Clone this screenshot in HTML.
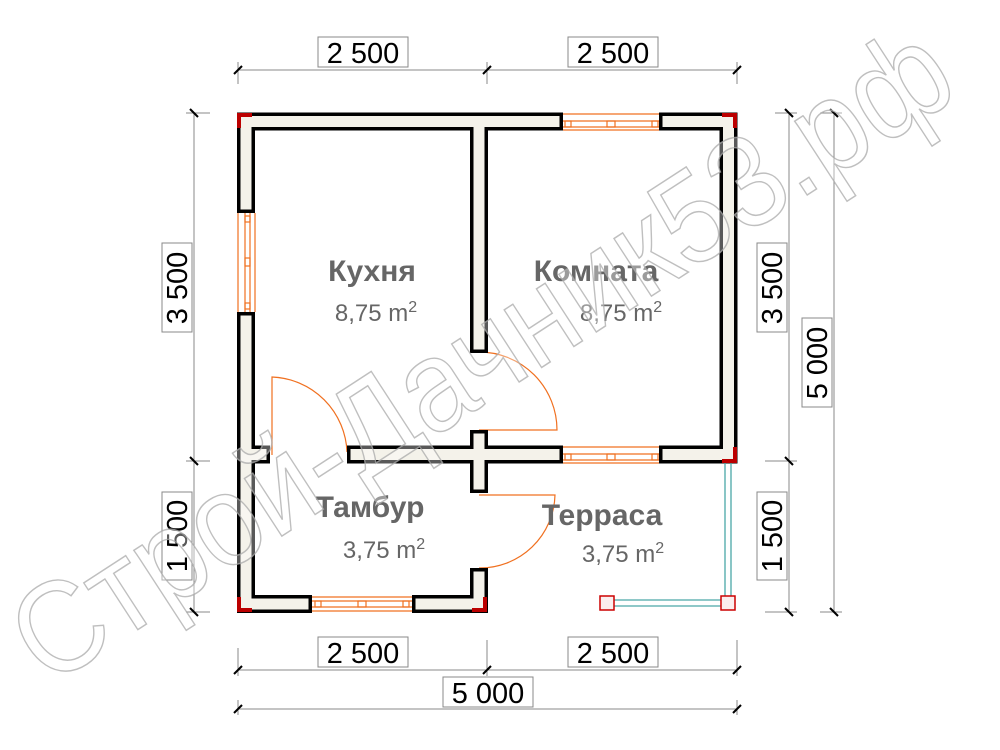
<!DOCTYPE html>
<html><head><meta charset="utf-8"><style>
html,body{margin:0;padding:0;background:#fff;}
svg{display:block;}
</style></head><body>
<svg width="1000" height="750" viewBox="0 0 1000 750" xmlns="http://www.w3.org/2000/svg" font-family="Liberation Sans, sans-serif">
<rect width="1000" height="750" fill="#fff"/>

<!-- dimension lines -->
<g stroke="#888" stroke-width="1" fill="none">
  <line x1="238" y1="70" x2="737" y2="70"/>
  <line x1="238" y1="62" x2="238" y2="84"/><line x1="487" y1="62" x2="487" y2="84"/><line x1="737" y1="62" x2="737" y2="84"/>
  <line x1="194" y1="113" x2="194" y2="612"/>
  <line x1="186" y1="113" x2="210" y2="113"/><line x1="186" y1="461" x2="210" y2="461"/><line x1="186" y1="612" x2="210" y2="612"/>
  <line x1="789" y1="113" x2="789" y2="612"/>
  <line x1="775" y1="113" x2="797" y2="113"/><line x1="765" y1="461" x2="797" y2="461"/><line x1="765" y1="612" x2="797" y2="612"/>
  <line x1="834" y1="113" x2="834" y2="612"/>
  <line x1="820" y1="113" x2="842" y2="113"/><line x1="820" y1="612" x2="842" y2="612"/>
  <line x1="238" y1="670" x2="737" y2="670"/>
  <line x1="238" y1="648" x2="238" y2="676"/><line x1="487" y1="640" x2="487" y2="676"/><line x1="737" y1="640" x2="737" y2="676"/>
  <line x1="238" y1="709" x2="737" y2="709"/>
  <line x1="238" y1="700" x2="238" y2="715"/><line x1="737" y1="700" x2="737" y2="715"/>
</g>
<g stroke="#000" stroke-width="2">
  <line x1="234" y1="74" x2="242" y2="66"/><line x1="483" y1="74" x2="491" y2="66"/><line x1="733" y1="74" x2="741" y2="66"/>
  <line x1="190" y1="109" x2="198" y2="117"/><line x1="190" y1="457" x2="198" y2="465"/><line x1="190" y1="608" x2="198" y2="616"/>
  <line x1="785" y1="109" x2="793" y2="117"/><line x1="785" y1="457" x2="793" y2="465"/><line x1="785" y1="608" x2="793" y2="616"/>
  <line x1="830" y1="109" x2="838" y2="117"/><line x1="830" y1="608" x2="838" y2="616"/>
  <line x1="234" y1="674" x2="242" y2="666"/><line x1="483" y1="674" x2="491" y2="666"/><line x1="733" y1="674" x2="741" y2="666"/>
  <line x1="234" y1="713" x2="242" y2="705"/><line x1="733" y1="713" x2="741" y2="705"/>
</g>
<g fill="#fff" stroke="#888" stroke-width="1">
  <rect x="318" y="37" width="90" height="30"/><rect x="568" y="37" width="90" height="30"/>
  <rect x="318" y="637" width="90" height="30"/><rect x="568" y="637" width="90" height="30"/>
  <rect x="443" y="677" width="90" height="30"/>
  <rect x="162" y="243" width="30" height="89"/><rect x="162" y="492" width="30" height="88"/>
  <rect x="757" y="243" width="30" height="89"/><rect x="757" y="492" width="30" height="88"/>
  <rect x="802" y="318" width="30" height="89"/>
</g>
<g font-size="29" fill="#000" text-anchor="middle">
  <text x="363" y="63">2 500</text><text x="613" y="63">2 500</text>
  <text x="363" y="663">2 500</text><text x="613" y="663">2 500</text>
  <text x="488" y="703">5 000</text>
  <text transform="translate(187,288) rotate(-90)">3 500</text>
  <text transform="translate(187,536) rotate(-90)">1 500</text>
  <text transform="translate(782,288) rotate(-90)">3 500</text>
  <text transform="translate(782,536) rotate(-90)">1 500</text>
  <text transform="translate(827,363) rotate(-90)">5 000</text>
</g>

<!-- windows -->
<g stroke="#f07020" stroke-width="1.2" fill="none">
  <g>
    <line x1="563" y1="114" x2="659" y2="114"/><line x1="563" y1="121" x2="659" y2="121"/>
    <line x1="563" y1="127" x2="659" y2="127"/><line x1="563" y1="130" x2="659" y2="130"/>
    <rect x="565" y="121" width="6" height="6"/><rect x="607" y="121" width="8" height="6"/><rect x="652" y="121" width="6" height="6"/>
  </g>
  <g transform="translate(0,333)">
    <line x1="563" y1="114" x2="659" y2="114"/><line x1="563" y1="121" x2="659" y2="121"/>
    <line x1="563" y1="127" x2="659" y2="127"/><line x1="563" y1="130" x2="659" y2="130"/>
    <rect x="565" y="121" width="6" height="6"/><rect x="607" y="121" width="8" height="6"/><rect x="652" y="121" width="6" height="6"/>
  </g>
  <g>
    <line x1="312" y1="597" x2="412" y2="597"/><line x1="312" y1="601" x2="412" y2="601"/>
    <line x1="312" y1="607" x2="412" y2="607"/><line x1="312" y1="611" x2="412" y2="611"/>
    <rect x="315" y="601" width="6" height="6"/><rect x="358" y="601" width="8" height="6"/><rect x="403" y="601" width="6" height="6"/>
  </g>
  <g>
    <line x1="238" y1="213" x2="238" y2="312"/><line x1="245" y1="213" x2="245" y2="312"/>
    <line x1="250" y1="213" x2="250" y2="312"/><line x1="255" y1="213" x2="255" y2="312"/>
    <rect x="245" y="216" width="5" height="6"/><rect x="245" y="258" width="5" height="8"/><rect x="245" y="303" width="5" height="6"/>
  </g>
  <!-- doors -->
  <path d="M272,455 L272,377 A78,78 0 0 1 347,452"/>
  <path d="M479,352 A78,78 0 0 1 557,430 L479,430"/>
  <path d="M479,495 L555,495 A75,75 0 0 1 479,568"/>
</g>

<!-- walls -->
<g fill="none" stroke-linecap="square" stroke-linejoin="miter">
  <g stroke="#000" stroke-width="18">
    <path d="M246,204 L246,121.5 L554,121.5"/>
    <path d="M668,121.5 L728.5,121.5 L728.5,454.5 L668,454.5"/>
    <path d="M479,121.5 L479,344"/>
    <path d="M246,321 L246,604 L303,604"/>
    <path d="M246,454.5 L261,454.5"/>
    <path d="M356,454.5 L554,454.5"/>
    <path d="M479,439 L479,484"/>
    <path d="M421,604 L479,604 L479,577"/>
  </g>
  <g stroke="#f4f2ea" stroke-width="11">
    <path d="M246,204 L246,121.5 L554,121.5"/>
    <path d="M668,121.5 L728.5,121.5 L728.5,454.5 L668,454.5"/>
    <path d="M479,121.5 L479,344"/>
    <path d="M246,321 L246,604 L303,604"/>
    <path d="M246,454.5 L261,454.5"/>
    <path d="M356,454.5 L554,454.5"/>
    <path d="M479,439 L479,484"/>
    <path d="M421,604 L479,604 L479,577"/>
  </g>
</g>
<!-- red corners -->
<g fill="none" stroke="#b00" stroke-width="4">
  <path d="M239,128 L239,115 L252,115"/>
  <path d="M722,115 L735,115 L735,128"/>
  <path d="M735,447 L735,461 L722,461"/>
  <path d="M239,597 L239,610 L252,610"/>
  <path d="M485,597 L485,610 L472,610"/>
</g>

<!-- terrace glass -->
<g stroke="#4aa7a7" stroke-width="1.3" fill="none">
  <line x1="725" y1="463" x2="725" y2="597"/><line x1="731" y1="463" x2="731" y2="597"/>
  <line x1="614" y1="600" x2="721" y2="600"/><line x1="614" y1="606" x2="721" y2="606"/>
</g>
<g stroke="#c00" stroke-width="1.5" fill="#fbeeee">
  <rect x="600" y="596" width="14" height="14"/>
  <rect x="721" y="596" width="14" height="14"/>
</g>

<!-- room labels -->
<g fill="#666" text-anchor="middle">
  <text x="372" y="281" font-size="30" font-weight="bold">Кухня</text>
  <text x="376" y="321" font-size="24">8,75 m<tspan font-size="16" dy="-9">2</tspan></text>
  <text x="596" y="281" font-size="30" font-weight="bold">Комната</text>
  <text x="621" y="321" font-size="24">8,75 m<tspan font-size="16" dy="-9">2</tspan></text>
  <text x="370" y="517" font-size="30" font-weight="bold">Тамбур</text>
  <text x="384" y="558" font-size="24">3,75 m<tspan font-size="16" dy="-9">2</tspan></text>
  <text x="602" y="525" font-size="30" font-weight="bold">Терраса</text>
  <text x="623" y="562" font-size="24">3,75 m<tspan font-size="16" dy="-9">2</tspan></text>
</g>

<!-- watermark -->
<text transform="translate(48,688) rotate(-33)" font-size="130" textLength="1090" lengthAdjust="spacingAndGlyphs" fill="#fff" fill-opacity="0.35" stroke="#aaa" stroke-opacity="0.75" stroke-width="1.5">Строй-Дачник53.рф</text>
</svg>
</body></html>
